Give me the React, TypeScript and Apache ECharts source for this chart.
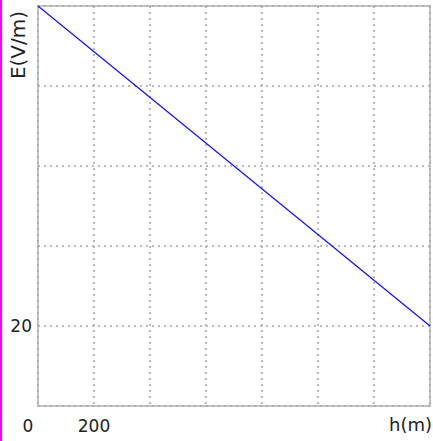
import React, { useEffect, useRef } from "react";
import * as echarts from "echarts";

const hValues = [0, 1400];
const eValues = [100, 20];
const xTickLabels = ["0", "200"];
const yTickLabels = ["20"];
const xTitle = "h(m)";
const yTitle = "E(V/m)";

export default function App() {
  const ref = useRef<HTMLDivElement>(null);
  useEffect(() => {
    const chart = echarts.init(ref.current!, null, { renderer: "svg" });
    const font = "DejaVu Sans";
    const gridLine = { show: true, lineStyle: { color: "#a8a8a8", type: [2, 4], width: 1.6 } };
    chart.setOption({
      animation: false,
      backgroundColor: "#ffffff",
      grid: {
        left: 38,
        top: 6,
        right: -4,
        bottom: 35,
        show: true,
        borderColor: "#c4c4c4",
        borderWidth: 2,
      },
      xAxis: {
        type: "value",
        min: 0,
        max: 1400,
        interval: 200,
        axisLine: { show: false },
        axisTick: { show: false },
        splitLine: gridLine,
        axisLabel: {
          margin: 11,
          fontFamily: font,
          fontSize: 17,
          color: "#222",
          showMinLabel: true,
          formatter: (v: number) => {
            const s = String(v);
            if (!xTickLabels.includes(s)) return "";
            return v === 0 ? "{o|" + s + "}" : s;
          },
          rich: { o: { fontFamily: font, fontSize: 17, color: "#222", padding: [0, 20, 0, 0] } },
        },
      },
      yAxis: {
        type: "value",
        min: 0,
        max: 100,
        interval: 20,
        axisLine: { show: false },
        axisTick: { show: false },
        splitLine: gridLine,
        axisLabel: {
          margin: 6,
          fontFamily: font,
          fontSize: 17,
          color: "#222",
          formatter: (v: number) => (yTickLabels.includes(String(v)) ? String(v) : ""),
        },
      },
      series: [
        {
          type: "line",
          data: hValues.map((h, i) => [h, eValues[i]]),
          showSymbol: false,
          lineStyle: { color: "#1010ff", width: 1.2 },
          clip: true,
        },
      ],
      graphic: [
        { type: "rect", shape: { x: 0, y: 0, width: 2, height: 441 }, style: { fill: "#ff00ff" } },
        {
          type: "text",
          x: 18,
          y: 45,
          rotation: Math.PI / 2,
          style: {
            text: yTitle,
            fontFamily: font,
            fontSize: 20,
            fill: "#222",
            align: "center",
            verticalAlign: "middle",
          },
        },
        {
          type: "text",
          x: 432,
          y: 424,
          style: {
            text: xTitle,
            fontFamily: font,
            fontSize: 18,
            fill: "#222",
            align: "right",
            verticalAlign: "middle",
          },
        },
      ],
    });
    return () => chart.dispose();
  }, []);
  return (
    <div
      ref={ref}
      style={{ position: "fixed", left: 0, top: 0, width: 433, height: 441 }}
    />
  );
}
